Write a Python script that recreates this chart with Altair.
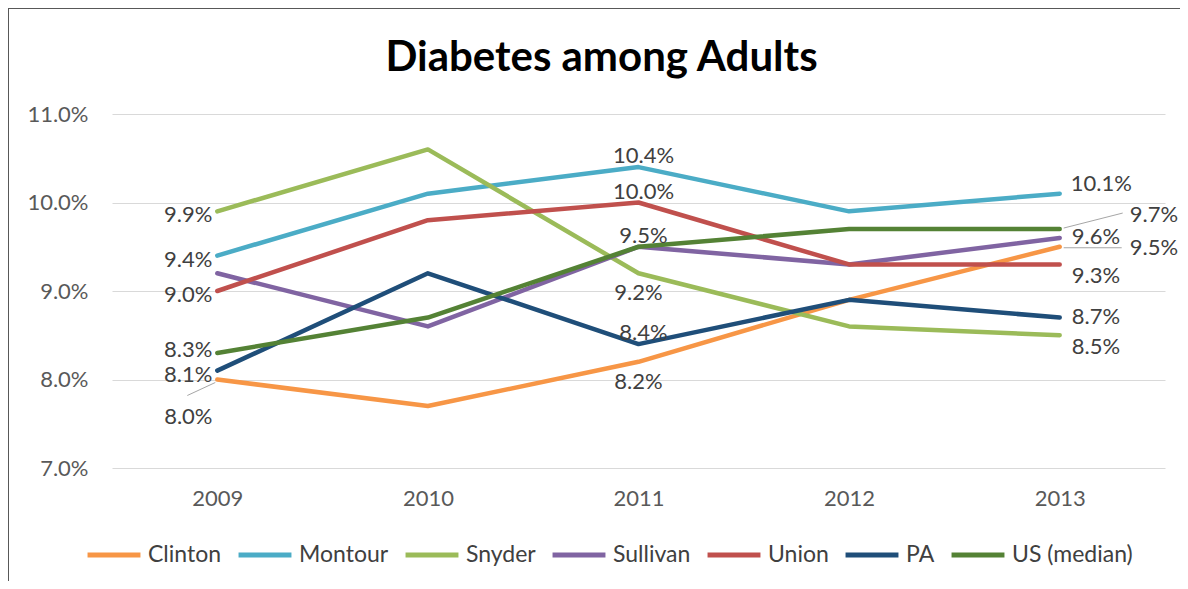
import altair as alt
import pandas as pd

years = ["2009", "2010", "2011", "2012", "2013"]
series = ["Clinton", "Montour", "Snyder", "Sullivan", "Union", "PA", "US (median)"]
colors = ["#F79646", "#4BACC6", "#9BBB59", "#8064A2", "#C0504D", "#1F4E79", "#548235"]

clinton = [8.0, 7.7, 8.2, 8.9, 9.5]
montour = [9.4, 10.1, 10.4, 9.9, 10.1]
snyder = [9.9, 10.6, 9.2, 8.6, 8.5]
sullivan = [9.2, 8.6, 9.5, 9.3, 9.6]
union = [9.0, 9.8, 10.0, 9.3, 9.3]
pa = [8.1, 9.2, 8.4, 8.9, 8.7]
us_median = [8.3, 8.7, 9.5, 9.7, 9.7]

values = [clinton, montour, snyder, sullivan, union, pa, us_median]

title_text = ["Diabetes among Adults"]

# which data points carry a label, and on which side of the point
label_series = ["Snyder", "Montour", "Union", "US (median)", "PA", "Clinton",
                "Montour", "Union", "US (median)", "Snyder", "PA", "Clinton",
                "Montour", "US (median)", "Sullivan", "Clinton", "Union", "PA", "Snyder"]
label_years = ["2009", "2009", "2009", "2009", "2009", "2009",
               "2011", "2011", "2011", "2011", "2011", "2011",
               "2013", "2013", "2013", "2013", "2013", "2013", "2013"]
label_side = ["left", "left", "left", "left_up", "left", "leader_left",
              "above", "above", "above", "below", "above", "below",
              "right_above", "leader_right_up", "right", "leader_right", "right_below", "right", "right_below"]

rows = []
for s, vals in zip(series, values):
    for y, v in zip(years, vals):
        rows.append({"series": s, "year": y, "value": v})
df = pd.DataFrame(rows)

lookup = {(r["series"], r["year"]): r["value"] for r in rows}
lab = pd.DataFrame({
    "series": label_series,
    "year": label_years,
    "side": label_side,
    "value": [lookup[(s, y)] for s, y in zip(label_series, label_years)],
})

FONT = "Lato"
TXT = "#404040"

W, H = 1053, 354
PAD_L, PAD_T = 104, 106

xscale = alt.Scale(type="point", padding=0.5, domain=years)

x_enc = alt.X("year:O", scale=xscale,
              axis=alt.Axis(title=None, labelAngle=0, labelFont=FONT, labelFontSize=22,
                            labelColor="#595959", labelPadding=20, domain=False, ticks=False,
                            grid=False))
y_enc = alt.Y("value:Q", scale=alt.Scale(domain=[7, 11], nice=False, zero=False),
              axis=alt.Axis(title=None, values=[7, 8, 9, 10, 11],
                            labelExpr="format(datum.value, '.1f') + '%'",
                            labelFont=FONT, labelFontSize=22, labelColor="#595959",
                            labelPadding=24, domain=False, ticks=False,
                            grid=True, gridColor="#D9D9D9", gridWidth=1))

lines = alt.Chart(df).mark_line(strokeWidth=4.5, strokeJoin="round", strokeCap="round").encode(
    x=x_enc,
    y=y_enc,
    color=alt.Color("series:N", scale=alt.Scale(domain=series, range=colors),
                    legend=alt.Legend(title=None, orient="none", direction="horizontal",
                                      columns=7, legendX=-27, legendY=412,
                                      symbolType="stroke", symbolStrokeWidth=5,
                                      symbolSize=2800, labelFont=FONT, labelFontSize=23,
                                      labelColor=TXT, labelOffset=5, columnPadding=6,
                                      labelLimit=300)),
    order=alt.Order("year:O"),
)

placements = {
    "left": dict(align="right", dx=-5, dy=4),
    "left_up": dict(align="right", dx=-5, dy=-3),
    "leader_left": dict(align="center", dx=-29, dy=37),
    "above": dict(align="center", dx=5, dy=-11),
    "below": dict(align="center", dx=0, dy=20),
    "right": dict(align="left", dx=12, dy=-1),
    "right_above": dict(align="left", dx=11, dy=-10),
    "right_below": dict(align="left", dx=12, dy=12),
    "leader_right": dict(align="left", dx=70, dy=1),
    "leader_right_up": dict(align="left", dx=70, dy=-14),
}

text_layers = []
for side, p in placements.items():
    text_layers.append(
        alt.Chart(lab).transform_filter(alt.datum.side == side)
        .transform_calculate(txt="format(datum.value, '.1f') + '%'")
        .mark_text(font=FONT, fontSize=22, color=TXT, baseline="middle", **p)
        .encode(
            x=alt.X("year:O", scale=xscale),
            y=alt.Y("value:Q"),
            text="txt:N",
        )
    )

leaders = {
    "leader_left": dict(xOffset=-2, yOffset=3, x2Offset=-30, y2Offset=16),
    "leader_right": dict(xOffset=4, yOffset=1, x2Offset=62, y2Offset=1),
    "leader_right_up": dict(xOffset=4, yOffset=-1, x2Offset=63, y2Offset=-16),
}
leader_layers = []
for side, p in leaders.items():
    leader_layers.append(
        alt.Chart(lab).transform_filter(alt.datum.side == side)
        .mark_rule(color="#A6A6A6", strokeWidth=1, **p)
        .encode(
            x=alt.X("year:O", scale=xscale),
            y=alt.Y("value:Q"),
            x2="year:O",
            y2="value:Q",
        )
    )

title = alt.Chart(pd.DataFrame({"t": title_text})).mark_text(
    font=FONT, fontSize=42, fontWeight="bold", color="#000000",
    align="center", baseline="middle"
).encode(text="t:N", x=alt.value(W / 2 - 37), y=alt.value(-56))

border_top = alt.Chart(df).mark_rule(color="#595959", strokeWidth=1.5).encode(
    x=alt.value(-PAD_L), x2=alt.value(W + 20), y=alt.value(-PAD_T))
border_left = alt.Chart(df).mark_rule(color="#595959", strokeWidth=1.5).encode(
    x=alt.value(-PAD_L), y=alt.value(-PAD_T), y2=alt.value(480))

chart = alt.layer(
    lines, *leader_layers, *text_layers, title, border_top, border_left
).properties(
    width=W,
    height=H,
    background="white",
    autosize=alt.AutoSizeParams(type="none"),
    padding={"left": PAD_L, "top": PAD_T, "right": 15, "bottom": 113},
).configure_view(stroke="transparent", strokeWidth=0)

chart.save("out.html", embed_options={"renderer": "svg", "actions": False})
